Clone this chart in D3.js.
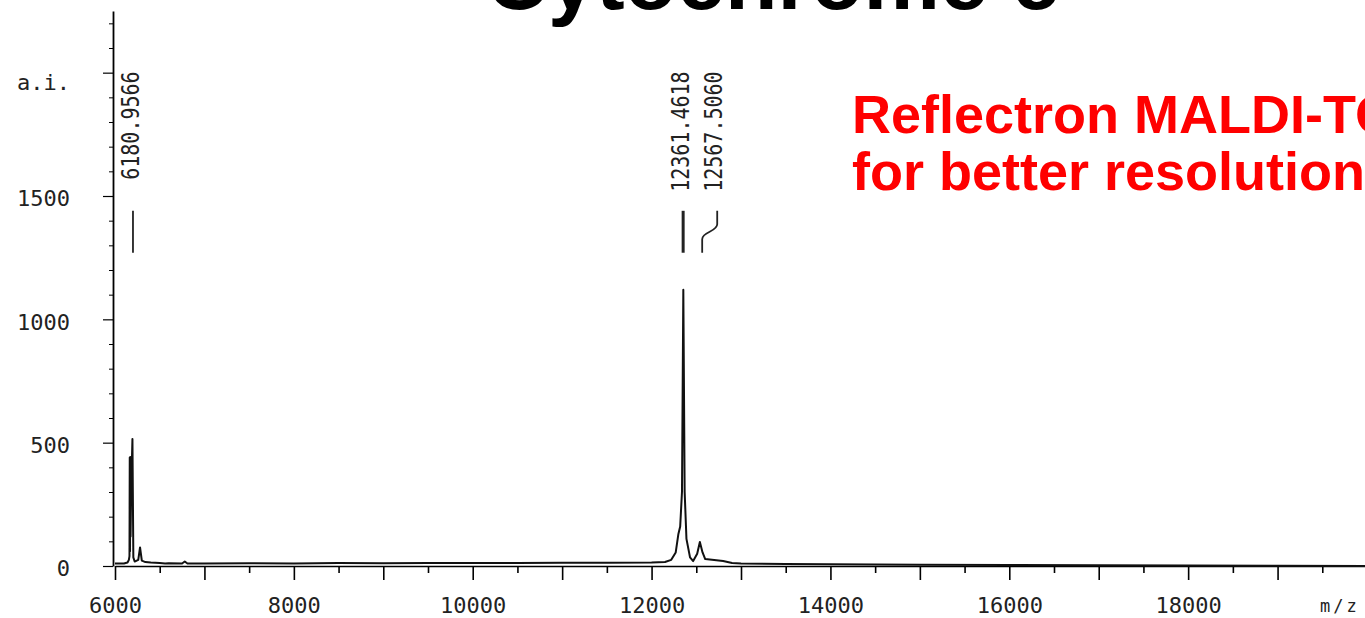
<!DOCTYPE html>
<html>
<head>
<meta charset="utf-8">
<script src="https://cdn.jsdelivr.net/npm/d3@7"></script>
<style>
  body { margin: 0; background: #fff; overflow: hidden; }
  .mono { font-family: "DejaVu Sans Mono", "Liberation Mono", monospace; fill: #222; }
</style>
</head>
<body>
<script>

// spectrum (m/z, a.i.)
var mzValues = [6000, 6100, 6140, 6155, 6162, 6165, 6168, 6171, 6174, 6180, 6195, 6205, 6220, 6260,
    6280, 6300, 6340, 6400, 6500, 6560, 6600, 6750, 6780, 6810, 7000, 7500, 8000, 8500, 9000, 9500,
    10000, 10500, 11000, 11500, 12000, 12150, 12220, 12270, 12300, 12320, 12340, 12355, 12370,
    12390, 12430, 12465, 12510, 12540, 12570, 12600, 12700, 12800, 12900, 13000, 13500, 14000,
    15000, 16000, 17000, 18000, 19000, 20000];
var intensity = [10, 10, 14, 25, 40, 440, 60, 442, 120, 300, 515, 35, 18, 25,
    75, 22, 16, 14, 12, 10, 11, 10, 18, 10, 10, 11, 10, 12, 11, 12,
    12, 12, 13, 13, 14, 16, 25, 55, 130, 160, 300, 1120, 300,
    110, 35, 20, 50, 97, 55, 28, 24, 20, 12, 10, 8, 7,
    5, 4, 3, 2, 1, 0];

// peak annotations
var peakLabels = ["6180.9566", "12361.4618", "12567.5060"];
var peakLabelMz = [6168, 12320, 12690];
var leaderTopMz = [6201, 12353, 12734];
var leaderBottomMz = [6201, 12353, 12566];

// axis ticks
var yMajor = [0, 500, 1000, 1500, 2000];
var yTickLabels = ["0", "500", "1000", "1500", "a.i."];
var xMajor = [6000, 8000, 10000, 12000, 14000, 16000, 18000];

var title = "Cytochrome c";
var note = ["Reflectron MALDI-TOF", "for better resolution"];

var width = 1365, height = 618;

var x = d3.scaleLinear().domain([6000, 20000]).range([115, 1367]);
var y = d3.scaleLinear().domain([0, 2250]).range([566, 11]);

var svg = d3.select("body").append("svg")
    .attr("width", width)
    .attr("height", height)
    .style("background", "#fff");

// title, cut by the top edge like in the slide
svg.append("text")
    .attr("x", 486)
    .attr("y", 9)
    .style("font-family", "'Liberation Sans', Arial, sans-serif")
    .style("font-weight", "bold")
    .style("font-size", "86px")
    .style("fill", "#000")
    .text(title);

svg.selectAll(".note")
    .data(note)
    .enter().append("text")
    .attr("class", "note")
    .attr("x", 852)
    .attr("y", function (d, i) { return 133 + i * 57; })
    .style("font-family", "'Liberation Sans', Arial, sans-serif")
    .style("font-weight", "bold")
    .style("font-size", "54px")
    .style("fill", "#ff0000")
    .text(function (d) { return d; });

// Y axis
var yAxis = svg.append("g")
    .attr("transform", "translate(113,0)")
    .call(d3.axisLeft(y).tickValues(yMajor).tickSize(10).tickSizeOuter(0).tickPadding(33)
        .tickFormat(function (d, i) { return yTickLabels[i]; }));
yAxis.select(".domain").attr("stroke-width", 1.8);
yAxis.selectAll(".tick line").attr("stroke-width", 1.2);
yAxis.selectAll("text").attr("class", "mono").style("font-size", "22px")
    .attr("dy", function (d) { return d === 2000 ? "0.75em" : "0.45em"; });
yAxis.attr("font-family", null).attr("font-size", null);

svg.append("g")
    .attr("transform", "translate(113,0)")
    .call(d3.axisLeft(y).tickValues(d3.range(100, 2300, 100).filter(function (d) { return d % 500 !== 0; }))
        .tickSize(4).tickFormat(""))
    .call(function (g) { g.select(".domain").remove(); });

// X axis: short ticks every 500, long every 1000, labels every 2000
svg.append("g")
    .attr("transform", "translate(0," + y(0) + ")")
    .call(d3.axisBottom(x).tickValues(d3.range(6500, 20000, 1000)).tickSize(7).tickFormat(""))
    .call(function (g) { g.select(".domain").remove(); g.selectAll("line").attr("stroke-width", 1.6); });

var xAxis = svg.append("g")
    .attr("transform", "translate(0," + y(0) + ")")
    .call(d3.axisBottom(x).tickValues(d3.range(6000, 20000, 1000)).tickSize(14).tickSizeOuter(0)
        .tickPadding(17)
        .tickFormat(function (d) { return xMajor.indexOf(d) >= 0 ? d3.format("d")(d) : ""; }));
xAxis.select(".domain").attr("stroke-width", 1.4);
xAxis.selectAll(".tick line").attr("stroke-width", 1.6);
xAxis.selectAll("text").attr("class", "mono").style("font-size", "22px");
xAxis.attr("font-family", null).attr("font-size", null);

svg.append("text")
    .attr("class", "mono")
    .attr("x", 1320)
    .attr("y", 612)
    .style("font-size", "17px")
    .style("letter-spacing", "3px")
    .text("m/z");

// spectrum trace
var spectrum = mzValues.map(function (d, i) { return [d, intensity[i]]; });

svg.append("path")
    .datum(spectrum)
    .attr("fill", "none")
    .attr("stroke", "#111")
    .attr("stroke-width", 2)
    .attr("stroke-linejoin", "round")
    .attr("d", d3.line()
        .x(function (d) { return x(d[0]); })
        .y(function (d) { return y(d[1]); }));

// peak leaders
var leaderY = [1440, 1385, 1325, 1270];
svg.selectAll(".leader")
    .data(peakLabels)
    .enter().append("path")
    .attr("class", "leader")
    .attr("fill", "none")
    .attr("stroke", "#222")
    .attr("stroke-width", function (d, i) { return i === 1 ? 3 : 1.8; })
    .attr("d", function (d, i) {
        var pts = [
            [leaderTopMz[i], leaderY[0]],
            [leaderTopMz[i], leaderY[1]],
            [leaderBottomMz[i], leaderY[2]],
            [leaderBottomMz[i], leaderY[3]]
        ];
        return d3.line().curve(d3.curveBumpY)
            .x(function (p) { return x(p[0]); })
            .y(function (p) { return y(p[1]); })(pts);
    });

// rotated peak labels
svg.selectAll(".peak-label")
    .data(peakLabels)
    .enter().append("text")
    .attr("class", "mono peak-label")
    .attr("transform", function (d, i) {
        return "translate(" + x(peakLabelMz[i]) + "," + y(2005) + ") rotate(-90) scale(1,1.25)";
    })
    .attr("text-anchor", "end")
    .attr("dy", "0.36em")
    .style("font-size", "20px")
    .text(function (d) { return d; });

</script>
</body>
</html>
